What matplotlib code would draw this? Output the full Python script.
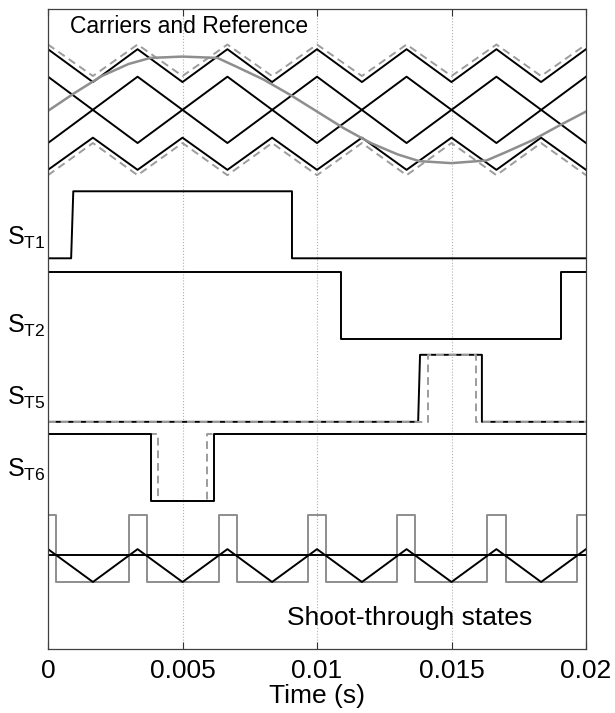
import matplotlib
matplotlib.use("Agg")
import matplotlib.pyplot as plt

plt.rcParams['font.family'] = ['Liberation Sans', 'DejaVu Sans']
plt.rcParams['mathtext.fontset'] = 'custom'
plt.rcParams['mathtext.rm'] = 'Liberation Sans'
plt.rcParams['mathtext.it'] = 'Liberation Sans:italic'

# ---- values (time in s, levels in signal units) ----
# triangular carriers (vertex times)
tri_t = [0, 0.00167, 0.00333, 0.005, 0.00667, 0.00833, 0.01,
         0.01167, 0.01333, 0.015, 0.01667, 0.01833, 0.02]
car_top = [0.90, 0.41, 0.90, 0.41, 0.90, 0.41, 0.90, 0.41, 0.90, 0.41, 0.90, 0.41, 0.90]
car_bot = [-0.90, -0.42, -0.90, -0.42, -0.90, -0.42, -0.90, -0.42, -0.90, -0.42, -0.90, -0.42, -0.90]
car_top_dash = [0.97, 0.50, 0.97, 0.50, 0.97, 0.50, 0.97, 0.50, 0.97, 0.50, 0.97, 0.50, 0.97]
car_bot_dash = [-0.98, -0.50, -0.98, -0.50, -0.98, -0.50, -0.98, -0.50, -0.98, -0.50, -0.98, -0.50, -0.98]

mid_t = [0, 0.00333, 0.00667, 0.01, 0.01333, 0.01667, 0.02]
car_mid1 = [0.49, -0.50, 0.49, -0.50, 0.49, -0.50, 0.49]
car_mid2 = [-0.50, 0.49, -0.50, 0.49, -0.50, 0.49, -0.50]

# reference (modulating) wave
ref_t = [0, 0.001, 0.002, 0.003, 0.0038, 0.005, 0.0063, 0.007, 0.008, 0.009, 0.01,
         0.011, 0.012, 0.013, 0.0138, 0.015, 0.0163, 0.017, 0.018, 0.019, 0.02]
ref_v = [-0.02, 0.25, 0.50, 0.68, 0.77, 0.79, 0.77, 0.64, 0.45, 0.22, -0.03,
         -0.28, -0.50, -0.67, -0.77, -0.80, -0.76, -0.64, -0.46, -0.24, -0.03]

# gate signals
st1_t = [0, 0.00086, 0.00094, 0.00907, 0.00907, 0.02]
st1_v = [0, 0, 1, 1, 0, 0]
st2_t = [0, 0.01089, 0.01089, 0.01907, 0.01907, 0.02]
st2_v = [1, 1, 0, 0, 1, 1]
st5_t = [0, 0.01376, 0.01383, 0.01613, 0.01613, 0.02]
st5_v = [0, 0, 1, 1, 0, 0]
st5d_t = [0, 0.01413, 0.01413, 0.01591, 0.01591, 0.02]
st5d_v = [0, 0, 1, 1, 0, 0]
st6_t = [0, 0.00383, 0.00383, 0.00617, 0.00617, 0.02]
st6_v = [1, 1, 0, 0, 1, 1]
st6d_t = [0, 0.00409, 0.00409, 0.00591, 0.00591, 0.02]
st6d_v = [1, 1, 0, 0, 1, 1]

# shoot-through
sh_tri_v = [0.49, 0.0, 0.49, 0.0, 0.49, 0.0, 0.49, 0.0, 0.49, 0.0, 0.49, 0.0, 0.49]
sh_level = 0.40
sh_t = [0, 0.0003, 0.0003, 0.00300, 0.00300, 0.00367, 0.00367, 0.00634, 0.00634,
        0.00701, 0.00701, 0.00967, 0.00967, 0.01034, 0.01034, 0.01299, 0.01299,
        0.01366, 0.01366, 0.01632, 0.01632, 0.01702, 0.01702, 0.01966, 0.01966, 0.02]
sh_v = [1, 1, 0, 0, 1, 1, 0, 0, 1, 1, 0, 0, 1, 1, 0, 0, 1, 1, 0, 0, 1, 1, 0, 0, 1, 1]

xticks = [0, 0.005, 0.01, 0.015, 0.02]
xtick_labels = ['0', '0.005', '0.01', '0.015', '0.02']

# vertical offsets of each trace band
off_car = 8.05
off_st1 = 5.83
off_st2 = 4.62
off_st5 = 3.39
off_st6 = 2.21
off_sh = 1.0

BLK = '#000000'
GREY = '#8e8e8e'
GREYD = '#9c9c9c'
lw = 1.4
dash = (4, 2.5)

fig = plt.figure(figsize=(6.15, 7.13), dpi=100)
ax = fig.add_axes([48 / 615, 1 - 649 / 713, 538 / 615, 640 / 713])

def sh(vals, off):
    return [v + off for v in vals]

# carriers and reference
ax.plot(tri_t, sh(car_top_dash, off_car), color=GREYD, lw=lw, dashes=dash)
ax.plot(tri_t, sh(car_bot_dash, off_car), color=GREYD, lw=lw, dashes=dash)
ax.plot(tri_t, sh(car_top, off_car), color=BLK, lw=lw)
ax.plot(tri_t, sh(car_bot, off_car), color=BLK, lw=lw)
ax.plot(mid_t, sh(car_mid1, off_car), color=BLK, lw=lw)
ax.plot(mid_t, sh(car_mid2, off_car), color=BLK, lw=lw)
ax.plot(ref_t, sh(ref_v, off_car), color=GREY, lw=1.8)

# gate signals
ax.plot(st1_t, sh(st1_v, off_st1), color=BLK, lw=lw)
ax.plot(st2_t, sh(st2_v, off_st2), color=BLK, lw=lw)
ax.plot(st5_t, sh(st5_v, off_st5), color=BLK, lw=lw)
ax.plot(st5d_t, sh(st5d_v, off_st5), color=GREYD, lw=lw, dashes=dash)
ax.plot(st6d_t, sh(st6d_v, off_st6), color=GREYD, lw=lw, dashes=dash)
ax.plot(st6_t, sh(st6_v, off_st6), color=BLK, lw=lw)

# shoot-through
ax.plot(sh_t, sh(sh_v, off_sh), color=GREY, lw=lw)
ax.plot(tri_t, sh(sh_tri_v, off_sh), color=BLK, lw=lw)
ax.plot([0, 0.02], [off_sh + sh_level] * 2, color=BLK, lw=lw)

ax.set_xlim(0, 0.02)
ax.set_ylim(0, 9.55)
ax.set_xticks(xticks)
ax.set_xticklabels(xtick_labels)
ax.set_yticks([])
ax.tick_params(axis='x', direction='in', length=5, top=True, labelsize=19, pad=7, color='#333333')
ax.grid(True, axis='x', linestyle=':', color='#b0b0b0', lw=0.8)
for s in ax.spines.values():
    s.set_color('#404040')
    s.set_linewidth(0.9)
ax.set_xlabel('Time (s)', fontsize=19, labelpad=1)

ax.text(0.00082, 9.19, 'Carriers and Reference', fontsize=16.5, va='baseline', ha='left')
ax.text(0.00888, 0.36, 'Shoot-through states', fontsize=19, va='baseline', ha='left')

lab_x = -0.00152
for name, yb in [('T1', 6.03), ('T2', 4.72), ('T5', 3.64), ('T6', 2.57)]:
    ax.text(lab_x, yb, r'$\mathregular{S_{%s}}$' % name, fontsize=18,
            va='baseline', ha='left', clip_on=False)

fig.savefig('out.png', dpi=100)
